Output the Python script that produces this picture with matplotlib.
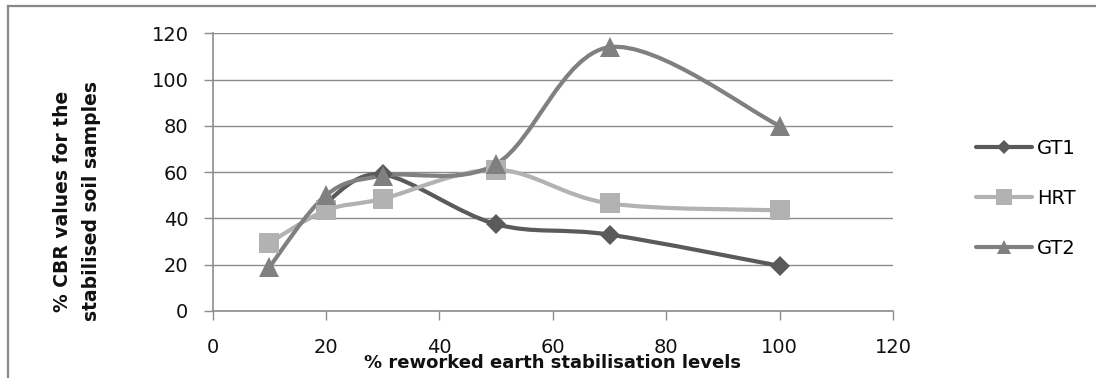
import matplotlib
matplotlib.use("Agg")
import matplotlib.pyplot as plt
from matplotlib.path import Path
from matplotlib.patches import PathPatch
from matplotlib.lines import Line2D

# ---- data ----
gt1_x = [20, 30, 50, 70, 100]
gt1_y = [47, 59, 37.5, 33, 19.5]
hrt_x = [10, 20, 30, 50, 70, 100]
hrt_y = [29.5, 43.5, 48.5, 61, 46.5, 43.5]
gt2_x = [10, 20, 30, 50, 70, 100]
gt2_y = [19, 50, 58.5, 63.5, 114, 80]
series_names = ["GT1", "HRT", "GT2"]
x_ticks = [0, 20, 40, 60, 80, 100, 120]
y_ticks = [0, 20, 40, 60, 80, 100, 120]
x_label = "% reworked earth stabilisation levels"
y_label = "% CBR values for the\nstabilised soil samples"

colors = ["#5a5a5a", "#b2b2b2", "#808080"]
markers = ["D", "s", "^"]
msizes = [10, 15, 14]

W, H = 1096, 378
fig = plt.figure(figsize=(W / 100, H / 100), dpi=100)
plt.rcParams['font.family'] = ['DejaVu Sans']

ax_l, ax_r, ax_t, ax_b = 212.7, 893, 33.3, 311
ax = fig.add_axes([ax_l / W, 1 - ax_b / H, (ax_r - ax_l) / W, (ax_b - ax_t) / H])
ax.set_xlim(0, 120)
ax.set_ylim(0, 120)
ax.set_xticks(x_ticks)
ax.set_yticks(y_ticks)
ax.yaxis.grid(True, color="#8c8c8c", lw=1.0)
ax.set_axisbelow(True)
for s in ["top", "right"]:
    ax.spines[s].set_visible(False)
for s in ["left", "bottom"]:
    ax.spines[s].set_color("#8c8c8c")
    ax.spines[s].set_linewidth(1.2)
ax.tick_params(axis="both", direction="out", length=6.5, width=1.0, color="#8c8c8c",
               labelsize=14, labelcolor="#111111")
ax.tick_params(axis="x", pad=13)
ax.tick_params(axis="y", pad=11)


def smooth_path(xs, ys):
    pts = list(zip(xs, ys))
    n = len(pts)
    verts = [pts[0]]
    codes = [Path.MOVETO]
    for i in range(n - 1):
        p0 = pts[i - 1] if i > 0 else pts[i]
        p1 = pts[i]
        p2 = pts[i + 1]
        p3 = pts[i + 2] if i + 2 < n else pts[i + 1]
        c1 = (p1[0] + (p2[0] - p0[0]) / 6, p1[1] + (p2[1] - p0[1]) / 6)
        c2 = (p2[0] - (p3[0] - p1[0]) / 6, p2[1] - (p3[1] - p1[1]) / 6)
        verts += [c1, c2, p2]
        codes += [Path.CURVE4] * 3
    return Path(verts, codes)


all_x = [gt1_x, hrt_x, gt2_x]
all_y = [gt1_y, hrt_y, gt2_y]
for xs, ys, c, m, ms in zip(all_x, all_y, colors, markers, msizes):
    ax.add_patch(PathPatch(smooth_path(xs, ys), fill=False, edgecolor=c, lw=3,
                           capstyle="round", joinstyle="round", zorder=3))
    ax.plot(xs, ys, linestyle="none", marker=m, markersize=ms, color=c,
            markeredgewidth=0, zorder=4, clip_on=False)

handles = [Line2D([], [], color=c, lw=3, marker=m, markersize=ms * 0.75,
                  markeredgewidth=0, solid_capstyle="round")
           for c, m, ms in zip(colors, markers, msizes)]
fig.legend(handles, series_names, loc="upper left",
           bbox_to_anchor=(976 / W, 1 - 139 / H), frameon=False, fontsize=14,
           handlelength=2.9, handletextpad=0.25, labelspacing=1.6, borderpad=0,
           borderaxespad=0)

fig.text(552 / W, 1 - 363 / H, x_label, ha="center", va="center",
         fontsize=13, fontweight="bold", color="#111111")
fig.text(77 / W, 1 - 201 / H, y_label, ha="center", va="center", rotation=90,
         fontsize=13.5, fontweight="bold", color="#111111", linespacing=1.65)

# outer frame lines
fig.add_artist(Line2D([8 / W, 8 / W], [0, 1 - 6 / H], transform=fig.transFigure,
                      color="#888888", lw=1.6))
fig.add_artist(Line2D([8 / W, 1], [1 - 6 / H, 1 - 6 / H], transform=fig.transFigure,
                      color="#888888", lw=1.6))

fig.savefig("out.png", dpi=100)
